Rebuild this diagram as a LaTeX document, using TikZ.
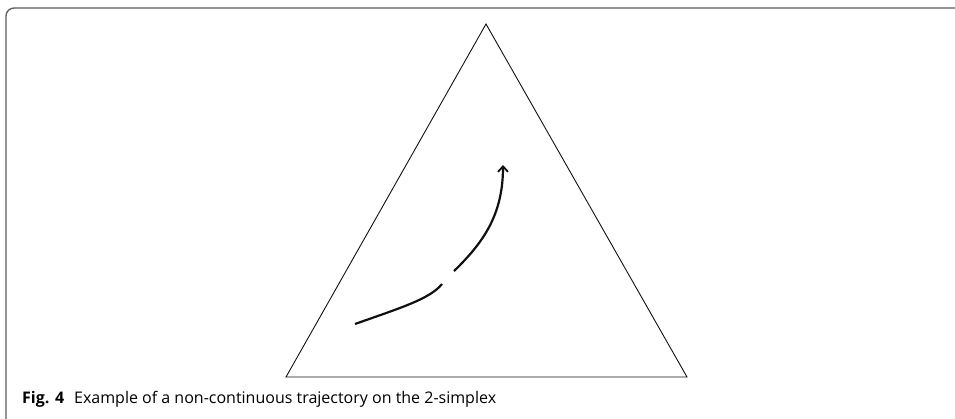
\documentclass[tikz,border=0pt]{standalone}
\usepackage{fontspec}
\setmainfont{Open Sans}
\usetikzlibrary{arrows.meta, positioning}
\definecolor{cframe}{HTML}{5A5A5A}
\definecolor{cink}{HTML}{111111}
\tikzset{
  every picture/.style={x=1pt, y=-1pt},
  frame/.style={draw=cframe, line width=1.3pt, rounded corners=8pt},
  simplex/.style={draw=cink, line width=0.9pt, line join=miter},
  traj/.style={draw=cink, line width=2.2pt, line cap=butt},
  caption/.style={font=\fontsize{16}{19}\selectfont, anchor=base west, inner sep=0pt},
}
\begin{document}
\begin{tikzpicture}
  \useasboundingbox (0,0) rectangle (955,418);
  % figure frame
  \draw[frame] (6,430) -- (6,8) -- (975,8);
  % the 2-simplex
  \coordinate (top) at (486,24);
  \coordinate (left) at (286,377);
  \coordinate (right) at (687,377);
  \draw[simplex] (left) -- (top) -- (right) -- cycle;
  % trajectory with a jump
  \coordinate (p0) at (355,324);
  \coordinate (p1) at (442,284);
  \coordinate (q0) at (454,271);
  \coordinate (q1) at (503,165);
  \draw[traj] (p0) .. controls (400,308) and (430,299) .. (p1);
  \draw[traj, -{Straight Barb[length=5.5pt, width=10pt, line width=1.8pt]}] (q0) .. controls (484,242) and (503,214) .. (q1);
  % caption
  \node[caption] (cap) at (22,403) {\textbf{Fig. 4}\hspace{10pt}Example of a non-continuous trajectory on the 2-simplex};
\end{tikzpicture}
\end{document}
